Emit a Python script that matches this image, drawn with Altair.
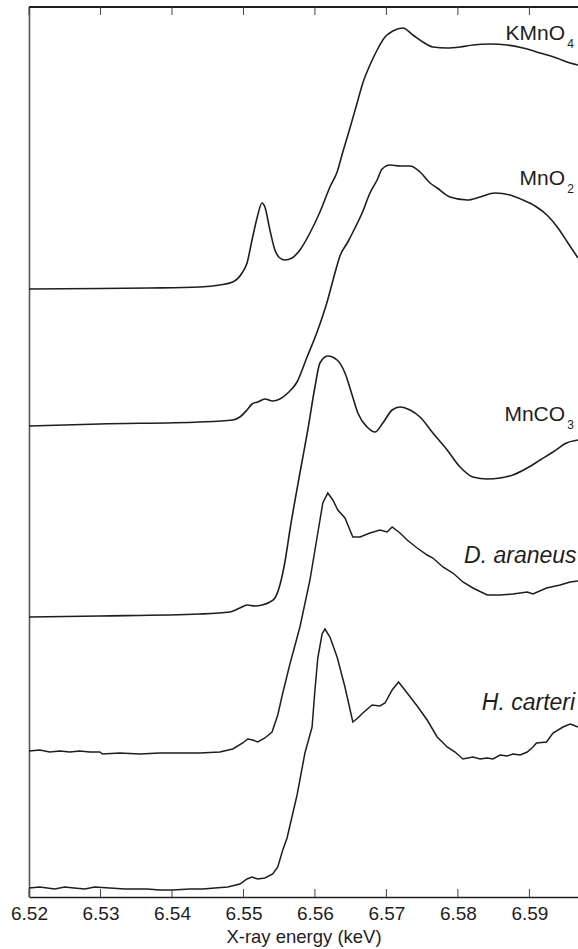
import altair as alt
import pandas as pd

# Mn K-edge XANES spectra, normalized absorbance stacked with vertical offsets (a.u.)
# Energies in keV.

kmno4_e = [6.5200, 6.5299, 6.5369, 6.5439, 6.5467, 6.5485, 6.5498, 6.5505, 6.5512, 6.5519,
           6.5526, 6.5530, 6.5537, 6.5544, 6.5551, 6.5558, 6.5568, 6.5579, 6.5593, 6.5607,
           6.5621, 6.5631, 6.5639, 6.5649, 6.5659, 6.5667, 6.5677, 6.5687, 6.5698, 6.5709,
           6.5723, 6.5737, 6.5751, 6.5765, 6.5785, 6.5803, 6.5821, 6.5845, 6.5869, 6.5891,
           6.5915, 6.5938, 6.5957, 6.5968]
kmno4_mu = [6.08, 6.085, 6.09, 6.10, 6.12, 6.15, 6.24, 6.34, 6.57, 6.79,
            6.94, 6.90, 6.67, 6.47, 6.39, 6.37, 6.39, 6.47, 6.64, 6.85,
            7.10, 7.25, 7.45, 7.69, 7.94, 8.14, 8.32, 8.47, 8.60, 8.66,
            8.69, 8.62, 8.55, 8.50, 8.49, 8.50, 8.52, 8.53, 8.52, 8.49,
            8.44, 8.39, 8.34, 8.32]

mno2_e = [6.5200, 6.5299, 6.5439, 6.5485, 6.5495, 6.5505, 6.5512, 6.5520, 6.5530, 6.5541,
          6.5551, 6.5562, 6.5575, 6.5589, 6.5603, 6.5617, 6.5628, 6.5635, 6.5646, 6.5656,
          6.5666, 6.5677, 6.5687, 6.5694, 6.5705, 6.5719, 6.5733, 6.5747, 6.5761, 6.5771,
          6.5789, 6.5813, 6.5831, 6.5852, 6.5873, 6.5891, 6.5908, 6.5926, 6.5940, 6.5954,
          6.5968]
mno2_mu = [4.71, 4.73, 4.75, 4.77, 4.80, 4.87, 4.93, 4.95, 4.98, 4.96,
           4.98, 5.04, 5.15, 5.40, 5.65, 5.95, 6.24, 6.41, 6.55, 6.69,
           6.84, 7.04, 7.17, 7.28, 7.32, 7.31, 7.31, 7.25, 7.14, 7.09,
           7.00, 6.97, 7.00, 7.04, 7.02, 6.97, 6.91, 6.81, 6.69, 6.54,
           6.39]

mnco3_e = [6.5200, 6.5299, 6.5439, 6.5481, 6.5495, 6.5505, 6.5516, 6.5526, 6.5537, 6.5544,
           6.5551, 6.5558, 6.5565, 6.5579, 6.5590, 6.5600, 6.5607, 6.5618, 6.5631, 6.5642,
           6.5652, 6.5660, 6.5673, 6.5684, 6.5695, 6.5708, 6.5719, 6.5733, 6.5747, 6.5765,
           6.5785, 6.5803, 6.5821, 6.5841, 6.5859, 6.5877, 6.5897, 6.5915, 6.5933, 6.5952,
           6.5968]
mnco3_mu = [2.80, 2.81, 2.83, 2.85, 2.89, 2.92, 2.91, 2.92, 2.95, 2.99,
            3.12, 3.35, 3.67, 4.24, 4.67, 5.10, 5.34, 5.41, 5.37, 5.24,
            5.02, 4.84, 4.70, 4.65, 4.74, 4.87, 4.90, 4.87, 4.80, 4.64,
            4.47, 4.30, 4.20, 4.18, 4.19, 4.22, 4.29, 4.37, 4.45, 4.54,
            4.57]

daraneus_e = [6.5200, 6.5215, 6.5229, 6.5243, 6.5257, 6.5271, 6.5285, 6.5299, 6.5303, 6.5327,
              6.5355, 6.5383, 6.5411, 6.5439, 6.5467, 6.5485, 6.5499, 6.5506, 6.5513, 6.5520,
              6.5530, 6.5540, 6.5548, 6.5555, 6.5565, 6.5579, 6.5593, 6.5604, 6.5611, 6.5618,
              6.5625, 6.5632, 6.5642, 6.5653, 6.5663, 6.5677, 6.5691, 6.5701, 6.5708, 6.5719,
              6.5729, 6.5743, 6.5757, 6.5765, 6.5779, 6.5793, 6.5807, 6.5821, 6.5841, 6.5859,
              6.5877, 6.5897, 6.5905, 6.5924, 6.5943, 6.5957, 6.5968]
daraneus_mu = [1.46, 1.47, 1.45, 1.46, 1.45, 1.46, 1.45, 1.45, 1.43, 1.44,
               1.43, 1.44, 1.44, 1.44, 1.45, 1.48, 1.54, 1.58, 1.57, 1.55,
               1.59, 1.65, 1.82, 2.04, 2.33, 2.70, 3.17, 3.64, 3.94, 4.04,
               3.97, 3.87, 3.79, 3.60, 3.60, 3.64, 3.67, 3.65, 3.70, 3.64,
               3.57, 3.49, 3.42, 3.39, 3.30, 3.24, 3.15, 3.09, 3.02, 3.02,
               3.03, 3.05, 3.03, 3.09, 3.12, 3.15, 3.16]

hcarteri_e = [6.5200, 6.5215, 6.5236, 6.5250, 6.5263, 6.5278, 6.5292, 6.5313, 6.5334, 6.5365,
              6.5383, 6.5401, 6.5425, 6.5443, 6.5460, 6.5478, 6.5495, 6.5505, 6.5512, 6.5520,
              6.5530, 6.5541, 6.5548, 6.5555, 6.5561, 6.5575, 6.5586, 6.5596, 6.5600, 6.5604,
              6.5610, 6.5614, 6.5621, 6.5631, 6.5642, 6.5653, 6.5660, 6.5667, 6.5680, 6.5691,
              6.5698, 6.5708, 6.5717, 6.5729, 6.5743, 6.5757, 6.5771, 6.5785, 6.5796, 6.5807,
              6.5821, 6.5831, 6.5841, 6.5849, 6.5859, 6.5869, 6.5877, 6.5887, 6.5897, 6.5905,
              6.5910, 6.5924, 6.5933, 6.5947, 6.5957, 6.5961, 6.5968]
hcarteri_mu = [0.09, 0.10, 0.08, 0.10, 0.09, 0.08, 0.10, 0.09, 0.08, 0.08,
               0.07, 0.07, 0.08, 0.08, 0.09, 0.10, 0.13, 0.18, 0.20, 0.18,
               0.19, 0.23, 0.30, 0.47, 0.59, 1.02, 1.44, 1.70, 2.07, 2.39,
               2.63, 2.68, 2.60, 2.40, 2.10, 1.75, 1.79, 1.84, 1.92, 1.91,
               1.94, 2.07, 2.15, 2.04, 1.91, 1.77, 1.60, 1.50, 1.45, 1.38,
               1.40, 1.38, 1.39, 1.38, 1.42, 1.41, 1.43, 1.42, 1.45, 1.50,
               1.54, 1.55, 1.64, 1.70, 1.73, 1.72, 1.70]

x_ticks = [6.52, 6.53, 6.54, 6.55, 6.56, 6.57, 6.58, 6.59]

# label text, subscript, right-edge energy, baseline height
compound_names = ["KMnO", "MnO", "MnCO"]
compound_subs = ["4", "2", "3"]
compound_e = [6.5950, 6.5950, 6.5950]
compound_mu = [8.57, 7.12, 4.76]

species_names = ["D. araneus", "H. carteri"]
species_e = [6.5966, 6.5964]
species_mu = [3.34, 1.87]

FONT = "Liberation Sans"
INK = "#1e1e1e"
W, H = 549, 890

def frame(name, e, mu):
    return pd.DataFrame({"sample": name, "energy": e, "mu": mu})

smooth_df = pd.concat([frame("KMnO4", kmno4_e, kmno4_mu),
                       frame("MnO2", mno2_e, mno2_mu),
                       frame("MnCO3", mnco3_e, mnco3_mu)])
noisy_df = pd.concat([frame("D. araneus", daraneus_e, daraneus_mu),
                      frame("H. carteri", hcarteri_e, hcarteri_mu)])

x_scale = alt.Scale(domain=[6.52, 6.5968], nice=False, zero=False)
y_scale = alt.Scale(domain=[0, 8.9], nice=False, zero=False)

x_bottom = alt.Axis(orient="bottom", values=x_ticks, format=".2f", ticks=False, grid=False,
                    labelFont=FONT, labelFontSize=19, labelColor=INK, labelPadding=7,
                    labelFlush=False, labelOverlap=False, labelBound=False,
                    domainColor=INK, domainWidth=1.6,
                    title="X-ray energy (keV)", titleFont=FONT, titleFontSize=18.5,
                    titleFontWeight="normal", titleColor=INK, titlePadding=4)
y_left = alt.Axis(labels=False, ticks=False, grid=False, title=None,
                  domainColor="#555555", domainWidth=1.6)

smooth = alt.Chart(smooth_df).mark_line(color=INK, strokeWidth=1.6, interpolate="monotone").encode(
    x=alt.X("energy:Q", scale=x_scale, axis=x_bottom),
    y=alt.Y("mu:Q", scale=y_scale, axis=y_left),
    detail="sample:N",
)

noisy = alt.Chart(noisy_df).mark_line(color=INK, strokeWidth=1.5, interpolate="linear").encode(
    x=alt.X("energy:Q"),
    y=alt.Y("mu:Q"),
    detail="sample:N",
)

tick_df = pd.DataFrame({"tick": x_ticks})

# top frame line
top_line = alt.Chart(pd.DataFrame({"edge": ["top"]})).mark_rule(color=INK, strokeWidth=2).encode(
    x=alt.value(0), x2=alt.value(W), y=alt.value(0),
)

# inward ticks on both horizontal edges
top_ticks = alt.Chart(tick_df).mark_rule(color="#444444", strokeWidth=1).encode(
    x=alt.X("tick:Q"),
    y=alt.value(0), y2=alt.value(8),
)
bottom_ticks = alt.Chart(tick_df).mark_rule(color="#444444", strokeWidth=1).encode(
    x=alt.X("tick:Q"),
    y=alt.value(H), y2=alt.value(H - 8),
)

comp_df = pd.DataFrame({"name": compound_names, "sub": compound_subs,
                        "energy": compound_e, "mu": compound_mu})
spec_df = pd.DataFrame({"name": species_names, "energy": species_e, "mu": species_mu})

comp_text = alt.Chart(comp_df).mark_text(align="right", baseline="alphabetic", font=FONT,
                                         fontSize=21, color=INK).encode(
    x="energy:Q", y="mu:Q", text="name:N")
comp_sub = alt.Chart(comp_df).mark_text(align="left", baseline="alphabetic", font=FONT,
                                        fontSize=12, color=INK, dx=2, dy=8).encode(
    x="energy:Q", y="mu:Q", text="sub:N")
spec_text = alt.Chart(spec_df).mark_text(align="right", baseline="alphabetic", font=FONT,
                                         fontSize=23, fontStyle="italic", color=INK).encode(
    x="energy:Q", y="mu:Q", text="name:N")

chart = alt.layer(smooth, noisy, top_line, top_ticks, bottom_ticks,
                  comp_text, comp_sub, spec_text).properties(
    width=W, height=H,
    autosize=alt.AutoSizeParams(type="none"),
    padding={"left": 29, "top": 7, "right": 0, "bottom": 52},
    background="white",
).configure_view(stroke=None)

chart.save("out.html", embed_options={"renderer": "svg", "actions": False})
